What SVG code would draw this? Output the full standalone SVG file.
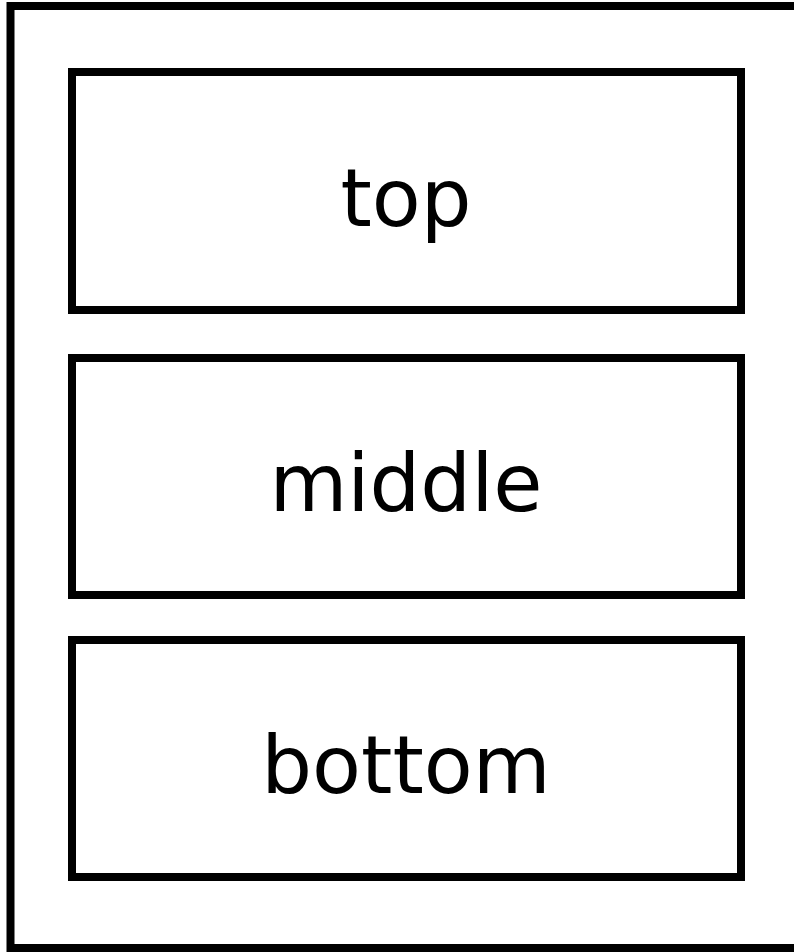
<svg xmlns="http://www.w3.org/2000/svg" width="794" height="952" viewBox="0 0 794 952">
<style>
.frame{fill:#fff;stroke:#000;stroke-width:8}
.box{fill:#fff;stroke:#000;stroke-width:8}
.label{font-family:"DejaVu Sans","Noto Sans",sans-serif;font-size:80px;fill:#000;text-anchor:middle}
</style>
<rect width="794" height="952" fill="#fff"/>
<g id="container">
<rect class="frame" x="10.5" y="6" width="800" height="942"/>
</g>
<g id="top">
<rect class="box" x="72" y="72" width="669" height="238"/>
<text class="label" x="406" y="226">top</text>
</g>
<g id="middle">
<rect class="box" x="72" y="358" width="669" height="237"/>
<text class="label" x="406" y="511">middle</text>
</g>
<g id="bottom">
<rect class="box" x="72" y="640" width="669" height="237"/>
<text class="label" x="406" y="793">bottom</text>
</g>
<g id="connectors"></g>
</svg>
